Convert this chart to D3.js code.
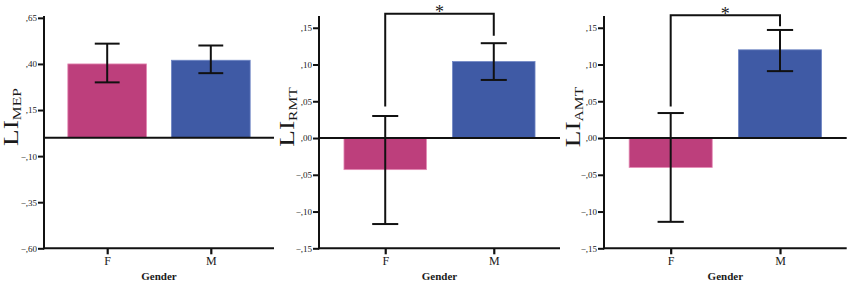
<!DOCTYPE html>
<html>
<head>
<meta charset="utf-8">
<script src="https://cdn.jsdelivr.net/npm/d3@7"></script>
<style>
  html, body { margin: 0; padding: 0; background: #fff; }
  svg { display: block; }
  text { font-family: "Liberation Serif", "Times New Roman", serif; fill: #1a1a1a; }
</style>
</head>
<body>
<svg id="chart" width="851" height="287"></svg>
<script>
// ---------- data ----------
const categories = ["F", "M"];
const xTitle = "Gender";

const mepMean = [0.40, 0.42];
const mepLow  = [0.30, 0.35];
const mepHigh = [0.51, 0.50];
const mepTicks = [0.65, 0.40, 0.15, -0.10, -0.35, -0.60];

const rmtMean = [-0.043, 0.104];
const rmtLow  = [-0.117, 0.079];
const rmtHigh = [0.030, 0.129];

const amtMean = [-0.040, 0.120];
const amtLow  = [-0.114, 0.091];
const amtHigh = [0.034, 0.147];

const diffTicks = [0.15, 0.10, 0.05, 0.00, -0.05, -0.10, -0.15];

// significance brackets: [left end, top, right end] in data units
const rmtBracket = [0.043, 0.169, 0.139];
const amtBracket = [0.043, 0.167, 0.152];
const sigLabel = "*";

const barColors = ["#BD3F7C", "#3F5AA5"];
const barEdges  = ["#E48AB5", "#6F86C4"];

// ---------- layout ----------
const svg = d3.select("#chart");
const plotTop = 16, plotBottom = 248.3;
const serif = "Liberation Serif, Times New Roman, serif";

const panels = [
  { left: 44,  right: 274,   yMin: -0.60, yMax: 0.66,  ticks: mepTicks,  mean: mepMean, low: mepLow, high: mepHigh, sub: "MEP", labelX: 18,  bracket: null },
  { left: 319, right: 560,   yMin: -0.15, yMax: 0.166, ticks: diffTicks, mean: rmtMean, low: rmtLow, high: rmtHigh, sub: "RMT", labelX: 294, bracket: rmtBracket },
  { left: 604, right: 846.7, yMin: -0.15, yMax: 0.166, ticks: diffTicks, mean: amtMean, low: amtLow, high: amtHigh, sub: "AMT", labelX: 580, bracket: amtBracket }
];

const fmt = d => d3.format(".2f")(d).replace("0.", ",");

panels.forEach(p => {
  const g = svg.append("g");
  const x = d3.scalePoint().domain(categories).range([p.left, p.right]).padding(0.61);
  const step = x.step();
  const barW = step * 0.76;
  const capW = step * 0.24;
  const y = d3.scaleLinear().domain([p.yMin, p.yMax]).range([plotBottom, plotTop]);

  // bars
  g.selectAll("rect.bar").data(categories).enter().append("rect")
    .attr("x", (d) => x(d) - barW / 2)
    .attr("width", barW)
    .attr("y", (d, i) => y(Math.max(0, p.mean[i])))
    .attr("height", (d, i) => Math.abs(y(p.mean[i]) - y(0)))
    .attr("fill", (d, i) => barColors[i])
    .attr("stroke", (d, i) => barEdges[i])
    .attr("stroke-width", 0.8);

  // zero line
  g.append("line")
    .attr("x1", p.left).attr("x2", p.right)
    .attr("y1", y(0)).attr("y2", y(0))
    .attr("stroke", "#111").attr("stroke-width", 2);

  // error bars
  const eb = g.selectAll("g.eb").data(categories).enter().append("g");
  eb.append("line")
    .attr("x1", d => x(d)).attr("x2", d => x(d))
    .attr("y1", (d, i) => y(p.low[i])).attr("y2", (d, i) => y(p.high[i]))
    .attr("stroke", "#111").attr("stroke-width", 2);
  eb.append("line")
    .attr("x1", d => x(d) - capW / 2).attr("x2", d => x(d) + capW / 2)
    .attr("y1", (d, i) => y(p.high[i])).attr("y2", (d, i) => y(p.high[i]))
    .attr("stroke", "#111").attr("stroke-width", 2);
  eb.append("line")
    .attr("x1", d => x(d) - capW / 2).attr("x2", d => x(d) + capW / 2)
    .attr("y1", (d, i) => y(p.low[i])).attr("y2", (d, i) => y(p.low[i]))
    .attr("stroke", "#111").attr("stroke-width", 2);

  // y axis
  const yAxis = d3.axisLeft(y).tickValues(p.ticks).tickFormat(fmt).tickSize(6).tickPadding(1);
  const ya = g.append("g").attr("transform", `translate(${p.left},0)`).call(yAxis)
    .attr("font-family", serif);
  ya.select(".domain").remove();
  ya.selectAll(".tick line").attr("stroke", "#111").attr("stroke-width", 2);
  ya.selectAll(".tick text").attr("font-size", 9).attr("fill", "#222");
  g.append("line")
    .attr("x1", p.left).attr("x2", p.left)
    .attr("y1", plotTop).attr("y2", plotBottom + 1)
    .attr("stroke", "#111").attr("stroke-width", 2);

  // x axis
  const xAxis = d3.axisBottom(x).tickSize(6).tickPadding(2);
  const xa = g.append("g").attr("transform", `translate(0,${plotBottom})`).call(xAxis)
    .attr("font-family", serif);
  xa.select(".domain").remove();
  xa.selectAll(".tick line").attr("stroke", "#111").attr("stroke-width", 2.2);
  xa.selectAll(".tick text").attr("font-size", 12).attr("fill", "#222");
  g.append("line")
    .attr("x1", p.left - 1).attr("x2", p.right)
    .attr("y1", plotBottom).attr("y2", plotBottom)
    .attr("stroke", "#111").attr("stroke-width", 2);

  // x title
  g.append("text")
    .attr("x", (p.left + p.right) / 2).attr("y", 280)
    .attr("text-anchor", "middle")
    .attr("font-size", 11).attr("font-weight", "bold")
    .text(xTitle);

  // y title: LI with subscript
  const yt = g.append("text")
    .attr("transform", `translate(${p.labelX},117) rotate(-90) scale(1.3,1)`)
    .attr("text-anchor", "middle")
    .attr("font-size", 21);
  yt.append("tspan").text("LI");
  yt.append("tspan").attr("font-size", 12).attr("dy", 3).text(p.sub);

  // significance bracket
  if (p.bracket) {
    const [l, t, r] = p.bracket;
    const x0 = x(categories[0]), x1 = x(categories[1]);
    g.append("path")
      .attr("d", `M${x0},${y(l)}V${y(t)}H${x1}V${y(r)}`)
      .attr("fill", "none").attr("stroke", "#111").attr("stroke-width", 2);
    g.append("text")
      .attr("x", (x0 + x1) / 2).attr("y", y(t) + 4.5)
      .attr("text-anchor", "middle").attr("font-size", 18)
      .text(sigLabel);
  }
});
</script>
</body>
</html>
